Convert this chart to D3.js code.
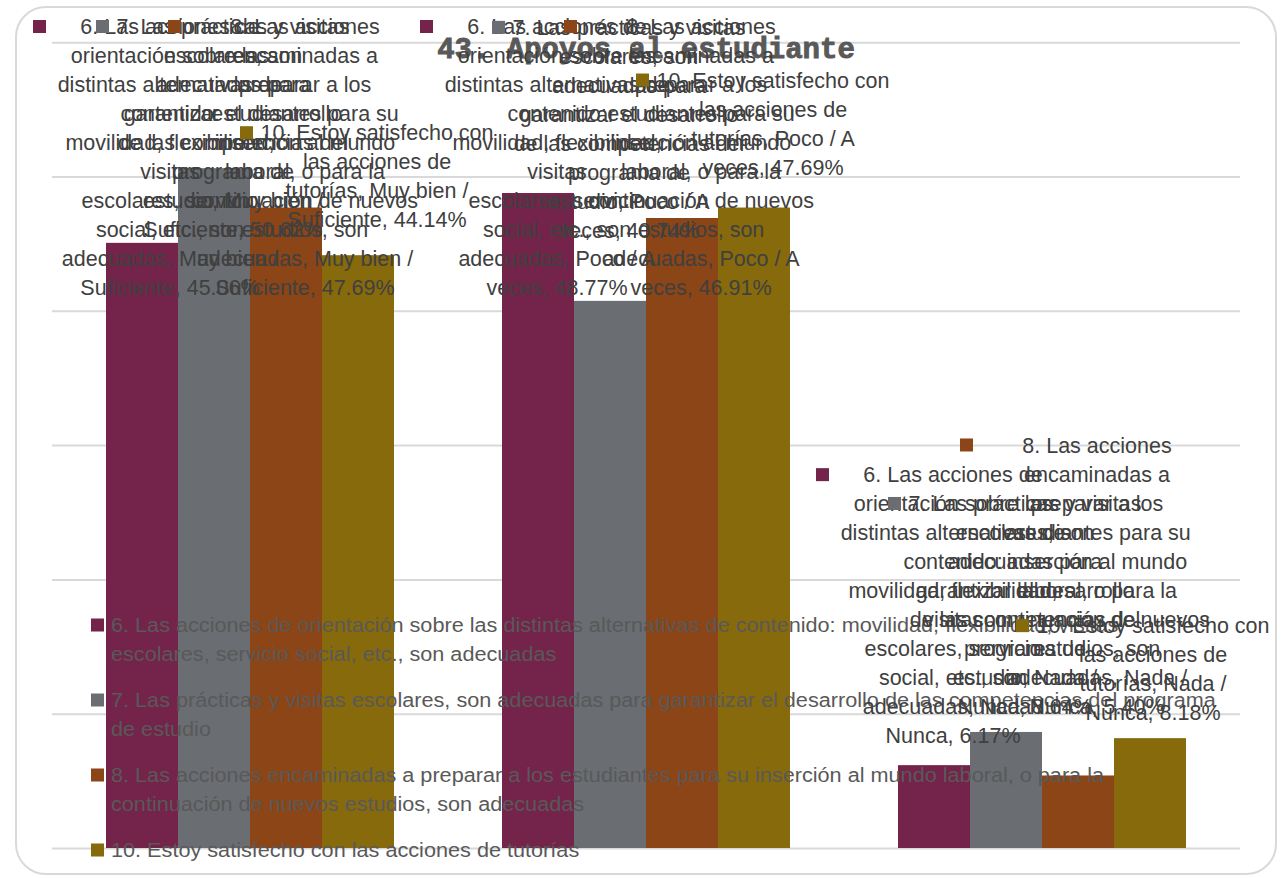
<!DOCTYPE html>
<html>
<head>
<meta charset="utf-8">
<script src="https://cdn.jsdelivr.net/npm/d3@7"></script>
<style>
  html, body { margin: 0; padding: 0; background: #ffffff; }
  svg { display: block; }
</style>
</head>
<body>
<svg id="chart" width="1284" height="878"></svg>
<script>
// ---------------- DATA ----------------
const title = "43. Apoyos al estudiante";
const categories = ["Muy bien / Suficiente", "Poco / A veces", "Nada / Nunca"];
const categoryLabelParts = [["Muy bien /", "Suficiente"], ["Poco / A", "veces"], ["Nada /", "Nunca"]];
const seriesKeys = ["6", "7", "8", "10"];
const seriesNames = [
  "6. Las acciones de orientación sobre las distintas alternativas de contenido: movilidad, flexibilidad, visitas escolares, servicio social, etc., son adecuadas",
  "7. Las prácticas y visitas escolares, son adecuadas para garantizar el desarrollo de las competencias del programa de estudio",
  "8. Las acciones encaminadas a preparar a los estudiantes para su inserción al mundo laboral, o para la continuación de nuevos estudios, son adecuadas",
  "10. Estoy satisfecho con las acciones de tutorías"
];
const values6 = [45.06, 48.77, 6.17];
const values7 = [50.62, 40.74, 8.64];
const values8 = [47.69, 46.91, 5.40];
const values10 = [44.14, 47.69, 8.18];
const seriesValues = [values6, values7, values8, values10];
const yTicks = [0, 10, 20, 30, 40, 50, 60];

// wrapped text of the data labels (series name part)
const labelLines6 = ["6. Las acciones de", "orientación sobre las", "distintas alternativas de", "contenido:", "movilidad, flexibilidad,", "visitas", "escolares, servicio", "social, etc., son", "adecuadas,"];
const labelLines7 = ["7. Las prácticas y visitas", "escolares, son", "adecuadas para", "garantizar el desarrollo", "de las competencias del", "programa de", "estudio,"];
const labelLines8 = ["8. Las acciones", "encaminadas a", "preparar a los", "estudiantes para su", "inserción al mundo", "laboral, o para la", "continuación de nuevos", "estudios, son", "adecuadas,"];
const labelLines10 = ["10. Estoy satisfecho con", "las acciones de", "tutorías,"];
const labelLines = [labelLines6, labelLines7, labelLines8, labelLines10];

// wrapped text of the legend
const legendLines6 = ["6. Las acciones de orientación sobre las distintas alternativas de contenido: movilidad, flexibilidad, visitas", "escolares, servicio social, etc., son adecuadas"];
const legendLines7 = ["7. Las prácticas y visitas escolares, son adecuadas para garantizar el desarrollo de las competencias del programa", "de estudio"];
const legendLines8 = ["8. Las acciones encaminadas a preparar a los estudiantes para su inserción al mundo laboral, o para la", "continuación de nuevos estudios, son adecuadas"];
const legendLines10 = ["10. Estoy satisfecho con las acciones de tutorías"];
const legendLines = [legendLines6, legendLines7, legendLines8, legendLines10];

// ---------------- STYLE / LAYOUT ----------------
const colors = ["#74244b", "#6a6d72", "#8b4516", "#876a0c"];
const plot = { left: 52, right: 1240, top: 42.2, bottom: 848 };
const labelFont = "'Liberation Sans', Arial, sans-serif";
const labelSize = 21.5;
const lineH = 29;
// manual vertical nudges of some data labels (as placed in the original)
const labelNudge = { "7|1": -45, "8|2": -44, "10|1": -15, "10|0": -10, "6|2": -4 };

const svg = d3.select("#chart");

// outer rounded frame
svg.append("rect")
  .attr("x", 16).attr("y", 7).attr("width", 1260).attr("height", 867)
  .attr("rx", 30).attr("ry", 30)
  .attr("fill", "#ffffff").attr("stroke", "#d9d9d9").attr("stroke-width", 2);

// scales
const x0 = d3.scaleBand().domain(categories).range([plot.left, plot.right])
  .paddingInner(108 / 396).paddingOuter(54 / 396);
const x1 = d3.scaleBand().domain(seriesKeys).range([0, x0.bandwidth()]);
const y = d3.scaleLinear().domain([0, 60]).range([plot.bottom, plot.top]);

// gridlines via axis
const grid = svg.append("g").attr("class", "grid")
  .attr("transform", `translate(${plot.left},0)`)
  .call(d3.axisLeft(y).tickValues(yTicks).tickSize(-(plot.right - plot.left)).tickFormat(""));
grid.select(".domain").remove();
grid.selectAll("line").attr("stroke", "#d9d9d9").attr("stroke-width", 2);

// title (under labels)
svg.append("text")
  .attr("x", 646).attr("y", 58)
  .attr("text-anchor", "middle")
  .attr("font-family", "'Liberation Mono', 'Courier New', monospace")
  .attr("font-weight", "bold")
  .attr("font-size", 29)
  .attr("fill", "#595959")
  .attr("stroke", "#595959").attr("stroke-width", 0.9)
  .text(title);

// bars
const barData = [];
seriesKeys.forEach((k, si) => {
  categories.forEach((c, ci) => {
    barData.push({ si, ci, key: k, cat: c, value: seriesValues[si][ci] });
  });
});

svg.append("g").selectAll("rect").data(barData).join("rect")
  .attr("x", d => x0(d.cat) + x1(d.key))
  .attr("y", d => y(d.value))
  .attr("width", x1.bandwidth())
  .attr("height", d => y(0) - y(d.value))
  .attr("fill", d => colors[d.si]);

// legend (drawn over bars)
const legendG = svg.append("g");
const legendTextX = 111;
const legendTargetWidth = 1105;
let ly = 625;
const legendTexts = [];
legendLines.forEach((lines, si) => {
  legendG.append("rect")
    .attr("x", 91).attr("y", ly - 6.5).attr("width", 13).attr("height", 13)
    .attr("fill", colors[si]);
  lines.forEach((ln, i) => {
    const g = legendG.append("g").attr("transform", `translate(${legendTextX},${ly + i * lineH})`);
    const t = g.append("text")
      .attr("x", 0).attr("y", 0).attr("dy", "0.35em")
      .attr("font-family", labelFont).attr("font-size", 21)
      .attr("fill", "#595959")
      .text(ln);
    legendTexts.push({ g, t, si, i });
  });
  ly += lines.length * lineH + 17;
});
// horizontal condensing of the legend font
const refW = legendTexts.find(o => o.si === 1 && o.i === 0).t.node().getComputedTextLength();
const sx = legendTargetWidth / refW;
legendTexts.forEach(o => {
  const tr = o.g.attr("transform");
  o.g.attr("transform", tr + ` scale(${sx},1)`);
});

// data labels: legend key + centred text in a fixed-width box
const fmt = v => v.toFixed(2) + "%";
const keyS = 13, keyGap = 9, textAreaW = 230;
const boxW = keyS + keyGap + textAreaW;
const labelsG = svg.append("g");
barData.forEach(d => {
  const base = labelLines[d.si];
  const parts = categoryLabelParts[d.ci];
  const lines = base.slice(0, -1)
    .concat([base[base.length - 1] + " " + parts[0], parts[1] + ", " + fmt(d.value)]);
  const g = labelsG.append("g");
  const cx = x0(d.cat) + x1(d.key) + x1.bandwidth() / 2 + 8;
  let left = cx - boxW / 2;
  left = Math.min(Math.max(left, 33), 1268 - boxW);
  const boxH = lines.length * lineH;
  const nudge = labelNudge[d.key + "|" + d.ci] || 0;
  const top = Math.max(12, y(d.value) - 11 - boxH + nudge);
  g.append("rect")
    .attr("x", left).attr("y", top + lineH / 2 - keyS / 2)
    .attr("width", keyS).attr("height", keyS)
    .attr("fill", colors[d.si]);
  lines.forEach((ln, i) => {
    g.append("text")
      .attr("font-family", labelFont).attr("font-size", labelSize)
      .attr("fill", "#404040").attr("text-anchor", "middle")
      .attr("x", left + keyS + keyGap + textAreaW / 2)
      .attr("y", top + lineH / 2 + i * lineH)
      .attr("dy", "0.35em").text(ln);
  });
});
</script>
</body>
</html>
